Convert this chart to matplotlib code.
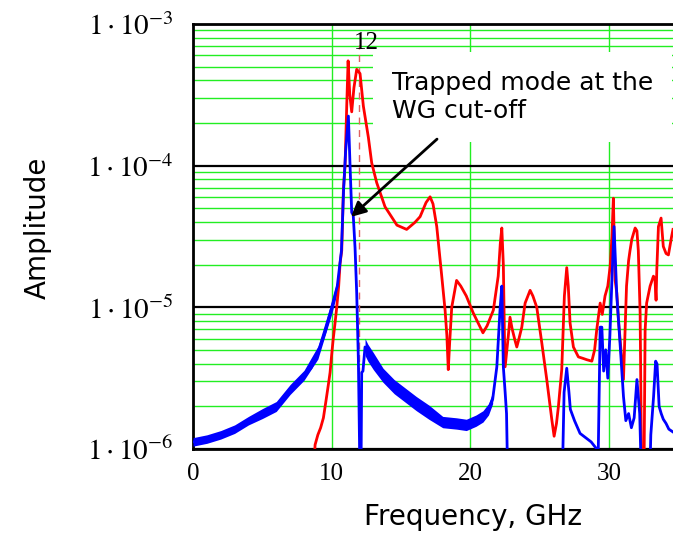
import numpy as np
import matplotlib.pyplot as plt
from matplotlib.ticker import FuncFormatter, LogLocator, NullFormatter

plt.rcParams["mathtext.fontset"] = "stix"

# spectra, amplitudes as log10 values
blue_f = [0, 1, 2, 3, 4, 5, 6, 7, 8, 8.5, 9, 9.5, 10, 10.4, 10.7, 10.85,
          11.0, 11.2, 11.32, 11.44, 11.55, 11.68, 11.8, 11.92, 12.05, 12.1,
          12.16, 12.25, 12.4, 12.6, 13, 13.7, 14.5, 15.3, 16.1, 17, 18, 19,
          19.7, 20.4, 20.9, 21.3, 21.6, 21.9, 22.13, 22.26, 22.37, 22.5,
          22.6, 22.7, 26.6, 26.75, 26.94, 27.1, 27.2, 27.5, 27.9, 28.3, 28.7,
          29.1, 29.2, 29.35, 29.47, 29.6, 29.75, 29.9, 30.05, 30.2, 30.35,
          30.55, 30.8, 31.03, 31.2, 31.4, 31.6, 31.8, 32.0, 32.2, 32.35,
          32.9, 33.0, 33.2, 33.35, 33.45, 33.6, 33.75, 33.9, 34.1, 34.3, 34.6]
blue_log = [-5.95, -5.93, -5.90, -5.86, -5.80, -5.75, -5.70, -5.58, -5.48,
            -5.43, -5.32, -5.18, -5.0, -4.85, -4.6, -4.18, -3.9, -3.65, -4.0,
            -4.33, -4.35, -4.58, -4.9, -5.37, -6.3, -6.3, -5.46, -5.45, -5.28,
            -5.32, -5.38, -5.48, -5.56, -5.62, -5.68, -5.74, -5.81, -5.82,
            -5.83, -5.8, -5.77, -5.72, -5.65, -5.42, -5.02, -4.85, -5.42,
            -5.6, -5.75, -6.3, -6.3, -5.6, -5.43, -5.6, -5.72, -5.8, -5.89,
            -5.92, -5.95, -6.0, -6.1, -5.14, -5.14, -5.45, -5.3, -5.5, -5.2,
            -4.8, -4.43, -4.92, -5.28, -5.63, -5.8, -5.75, -5.85, -5.78,
            -5.51, -5.75, -6.3, -6.3, -5.9, -5.63, -5.38, -5.4, -5.7, -5.75,
            -5.79, -5.82, -5.86, -5.88]

# width of the noisy blue band
band1_f = [0, 1, 2, 3, 4, 5, 6, 7, 8, 9, 10, 10.4]
band1_lo = [-5.98, -5.96, -5.93, -5.89, -5.83, -5.785, -5.735, -5.615,
            -5.515, -5.365, -5.045, -4.895]
band1_hi = [-5.92, -5.90, -5.87, -5.83, -5.77, -5.715, -5.665, -5.545,
            -5.445, -5.275, -4.955, -4.805]
band2_f = [12.4, 12.6, 13, 13.7, 14.5, 15.3, 16.1, 17, 18, 19, 19.7, 20.4,
           20.9, 21.3, 21.6]
band2_lo = [-5.34, -5.38, -5.44, -5.53, -5.61, -5.67, -5.73, -5.79, -5.85,
            -5.86, -5.87, -5.84, -5.81, -5.76, -5.68]
band2_hi = [-5.22, -5.26, -5.32, -5.43, -5.51, -5.57, -5.63, -5.69, -5.77,
            -5.78, -5.79, -5.76, -5.73, -5.68, -5.6]

red_f = [8.6, 8.8, 9.0, 9.2, 9.4, 9.6, 9.75, 9.88, 10.0, 10.1, 10.25, 10.36,
         10.5, 10.6, 10.72, 10.84, 10.96, 11.08, 11.18, 11.3, 11.44, 11.6,
         11.8, 12.04, 12.28, 12.64, 12.88, 13.24, 13.84, 14.7, 15.4, 16.0,
         16.37, 16.8, 17.09, 17.3, 17.57, 17.93, 18.17, 18.3, 18.4, 18.5,
         18.65, 19.0, 19.3, 19.7, 20.2, 20.6, 20.9, 21.2, 21.65, 22.0, 22.15,
         22.26, 22.37, 22.45, 22.5, 22.73, 22.85, 23.0, 23.2, 23.34, 23.5,
         23.7, 23.94, 24.3, 24.5, 24.78, 25.14, 25.5, 25.86, 26.03, 26.2,
         26.34, 26.58, 26.77, 26.94, 27.05, 27.18, 27.42, 27.78, 28.1, 28.39,
         28.75, 28.95, 29.1, 29.35, 29.5, 29.7, 29.9, 30.07, 30.2, 30.3,
         30.43, 30.55, 30.67, 30.85, 31.03, 31.1, 31.25, 31.4, 31.5, 31.63,
         31.87, 32.0, 32.1, 32.23, 32.35, 32.5, 32.59, 32.7, 32.95, 33.19,
         33.3, 33.38, 33.43, 33.55, 33.74, 33.9, 34.1, 34.27, 34.5, 34.6]
red_log = [-6.3, -5.97, -5.9, -5.85, -5.78, -5.65, -5.55, -5.46, -5.33,
           -5.23, -5.1, -5.0, -4.85, -4.69, -4.6, -4.17, -4.0, -3.58, -3.26,
           -3.5, -3.62, -3.45, -3.32, -3.35, -3.58, -3.8, -3.98, -4.12, -4.29,
           -4.42, -4.45, -4.4, -4.36, -4.26, -4.22, -4.27, -4.43, -4.78,
           -5.02, -5.2, -5.44, -5.25, -5.0, -4.81, -4.85, -4.92, -5.04, -5.12,
           -5.18, -5.13, -5.02, -4.78, -4.55, -4.44, -4.7, -5.2, -5.42, -5.2,
           -5.07, -5.15, -5.23, -5.28, -5.22, -5.14, -4.97, -4.88, -4.92,
           -5.0, -5.25, -5.51, -5.79, -5.91, -5.82, -5.7, -5.44, -4.92, -4.72,
           -4.85, -5.11, -5.28, -5.35, -5.36, -5.37, -5.38, -5.3, -5.16,
           -4.97, -5.05, -4.92, -4.85, -4.71, -4.5, -4.23, -4.81, -4.9, -5.09,
           -5.3, -5.51, -5.3, -4.85, -4.67, -4.6, -4.52, -4.44, -4.46, -4.6,
           -5.04, -6.3, -6.3, -5.16, -4.97, -4.85, -4.78, -4.8, -4.95, -4.74,
           -4.43, -4.37, -4.57, -4.62, -4.63, -4.5, -4.45]

x_ticks = [0, 10, 20, 30]
x_labels = ["0", "10", "20", "30"]
marker_f = 12
marker_label = "12"
note_text = "Trapped mode at the\nWG cut-off"

green = "#22ee22"

fig = plt.figure(figsize=(6.73, 5.37), dpi=100)
ax = fig.add_axes([0.2868, 0.1639, 0.7132, 0.7914])

ax.fill_between(band1_f, 10 ** np.array(band1_lo), 10 ** np.array(band1_hi),
                color="blue", lw=0, zorder=3)
ax.fill_between(band2_f, 10 ** np.array(band2_lo), 10 ** np.array(band2_hi),
                color="blue", lw=0, zorder=3)
ax.plot(red_f, 10 ** np.array(red_log), color="red", lw=2, zorder=3)
ax.plot(blue_f, 10 ** np.array(blue_log), color="blue", lw=2, zorder=4)

ax.set_yscale("log")
ax.set_xlim(0, 34.6)
ax.set_ylim(1e-6, 1e-3)
ax.set_axisbelow(True)

ax.set_xticks(x_ticks)
ax.set_xticklabels(x_labels, fontsize=18, family="Liberation Serif")
ax.yaxis.set_major_locator(LogLocator(base=10))
ax.yaxis.set_minor_locator(LogLocator(base=10, subs=np.arange(2, 10)))
ax.yaxis.set_minor_formatter(NullFormatter())
ax.yaxis.set_major_formatter(
    FuncFormatter(lambda v, p: r"$1\cdot10^{%d}$" % round(np.log10(v))))
ax.grid(which="minor", axis="y", color=green, lw=1)
ax.grid(which="major", axis="y", color="black", lw=1.6)
ax.grid(which="major", axis="x", color=green, lw=1)
ax.tick_params(which="both", length=0)
ax.tick_params(axis="x", pad=10)
ax.tick_params(axis="y", labelsize=21, pad=14)

for side in ["left", "bottom", "top"]:
    ax.spines[side].set_linewidth(2)
ax.spines["right"].set_visible(False)

# cut-off marker
ax.axvline(marker_f, ymax=0.95, color="#e06060", lw=1, ls=(0, (5, 4)), zorder=2)
ax.text(marker_f + 0.5, 7.3e-4, marker_label, ha="center", va="center",
        fontsize=18, family="Liberation Serif", zorder=5)

ax.text(14.35, 3.05e-4, note_text, ha="left", va="center", fontsize=18,
        linespacing=1.2, zorder=6,
        bbox=dict(boxstyle="square,pad=0.75", fc="white", ec="none"))
ax.annotate("", xy=(11.39, 4.35e-5), xytext=(17.59, 1.54e-4),
            arrowprops=dict(arrowstyle="-|>", color="black", lw=2,
                            mutation_scale=22, shrinkA=0, shrinkB=0),
            zorder=7)

fig.text(38 / 673, 1 - 228 / 537, "Amplitude", rotation=90, ha="center",
         va="center", fontsize=20)
fig.text(473 / 673, 1 - 517 / 537, "Frequency, GHz", ha="center",
         va="center", fontsize=20)

fig.savefig("out.png", dpi=100)
